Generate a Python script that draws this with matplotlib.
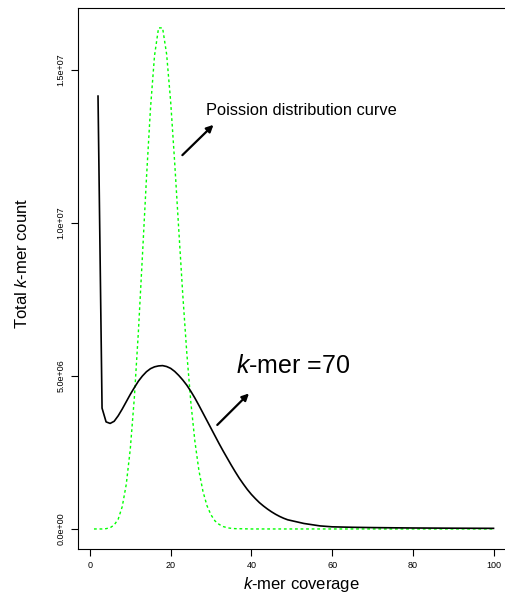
import numpy as np
import matplotlib.pyplot as plt

plt.rcParams['font.family'] = ['Liberation Sans', 'DejaVu Sans']
plt.rcParams['mathtext.fontset'] = 'custom'
plt.rcParams['mathtext.rm'] = 'Liberation Sans'
plt.rcParams['mathtext.it'] = 'Liberation Sans:italic'

# k-mer = 70 observed curve (counts in millions)
kmer_x = list(range(2, 61)) + [65, 70, 75, 80, 90, 100]
kmer_y = [14.15, 3.95, 3.50, 3.45, 3.52, 3.70, 3.92, 4.16, 4.40, 4.62,
          4.83, 5.00, 5.14, 5.24, 5.30, 5.33, 5.34, 5.31, 5.25, 5.15,
          5.02, 4.87, 4.70, 4.50, 4.28, 4.04, 3.79, 3.54, 3.29, 3.04,
          2.79, 2.55, 2.32, 2.09, 1.87, 1.66, 1.47, 1.29, 1.13, 0.99,
          0.86, 0.75, 0.65, 0.56, 0.48, 0.41, 0.35, 0.30, 0.27, 0.24,
          0.21, 0.18, 0.16, 0.14, 0.12, 0.10, 0.09, 0.08, 0.07,
          0.055, 0.045, 0.038, 0.032, 0.025, 0.02]

# Poisson distribution curve (counts in millions)
pois_x = list(range(1, 37)) + [40, 60, 80, 100]
pois_y = [0.0, 0.0, 0.0, 0.01, 0.04, 0.13, 0.32, 0.73, 1.46, 2.62,
          4.29, 6.44, 8.92, 11.46, 13.75, 15.47, 16.38, 16.38, 15.52, 13.97,
          11.97, 9.80, 7.66, 5.75, 4.14, 2.87, 1.91, 1.23, 0.76, 0.46,
          0.26, 0.15, 0.08, 0.04, 0.02, 0.01, 0.0, 0.0, 0.0, 0.0]

x_ticks = [0, 20, 40, 60, 80, 100]
y_ticks = [0, 5e6, 1e7, 1.5e7]
y_tick_labels = ['0.0e+00', '5.0e+06', '1.0e+07', '1.5e+07']

fig = plt.figure(figsize=(5.06, 5.98), dpi=100)
ax = fig.add_axes([78 / 506, 49 / 598, 431.5 / 506, 541 / 598])

ax.plot(pois_x, np.array(pois_y) * 1e6, color='#00ff00', lw=1.0,
        linestyle=(0, (2, 2)))
ax.plot(kmer_x, np.array(kmer_y) * 1e6, color='black', lw=1.2)

ax.set_xlim(-2.96, 103.96)
ax.set_ylim(-0.655e6, 1.703e7)
ax.set_xticks(x_ticks)
ax.set_xticklabels([str(t) for t in x_ticks], fontsize=6.5)
ax.set_yticks(y_ticks)
ax.set_yticklabels(y_tick_labels, fontsize=6.5, rotation=90, va='center')
ax.tick_params(length=5, width=0.8, pad=4, colors='black')
for s in ax.spines.values():
    s.set_linewidth(0.8)

fig.text(22 / 506, 1 - 263 / 598, r'Total $\mathit{k}$-mer count',
         rotation=90, ha='center', va='center', fontsize=12)
fig.text(301 / 506, 1 - 584 / 598, r'$\mathit{k}$-mer coverage',
         ha='center', va='center', fontsize=12)

ax.text(28.7, 13.53e6, 'Poission distribution curve', fontsize=11.8,
        va='baseline')
ax.text(36.3, 5.09e6, r'$\mathit{k}$-mer =70', fontsize=18, va='baseline')

ax.annotate('', xy=(30.6, 13.21e6), xytext=(22.9, 12.22e6),
            arrowprops=dict(arrowstyle='-|>', color='black', lw=1.6,
                            mutation_scale=10, shrinkA=0, shrinkB=0))
ax.annotate('', xy=(39.4, 4.43e6), xytext=(31.55, 3.40e6),
            arrowprops=dict(arrowstyle='-|>', color='black', lw=1.6,
                            mutation_scale=10, shrinkA=0, shrinkB=0))

fig.savefig('out.png', dpi=100)
